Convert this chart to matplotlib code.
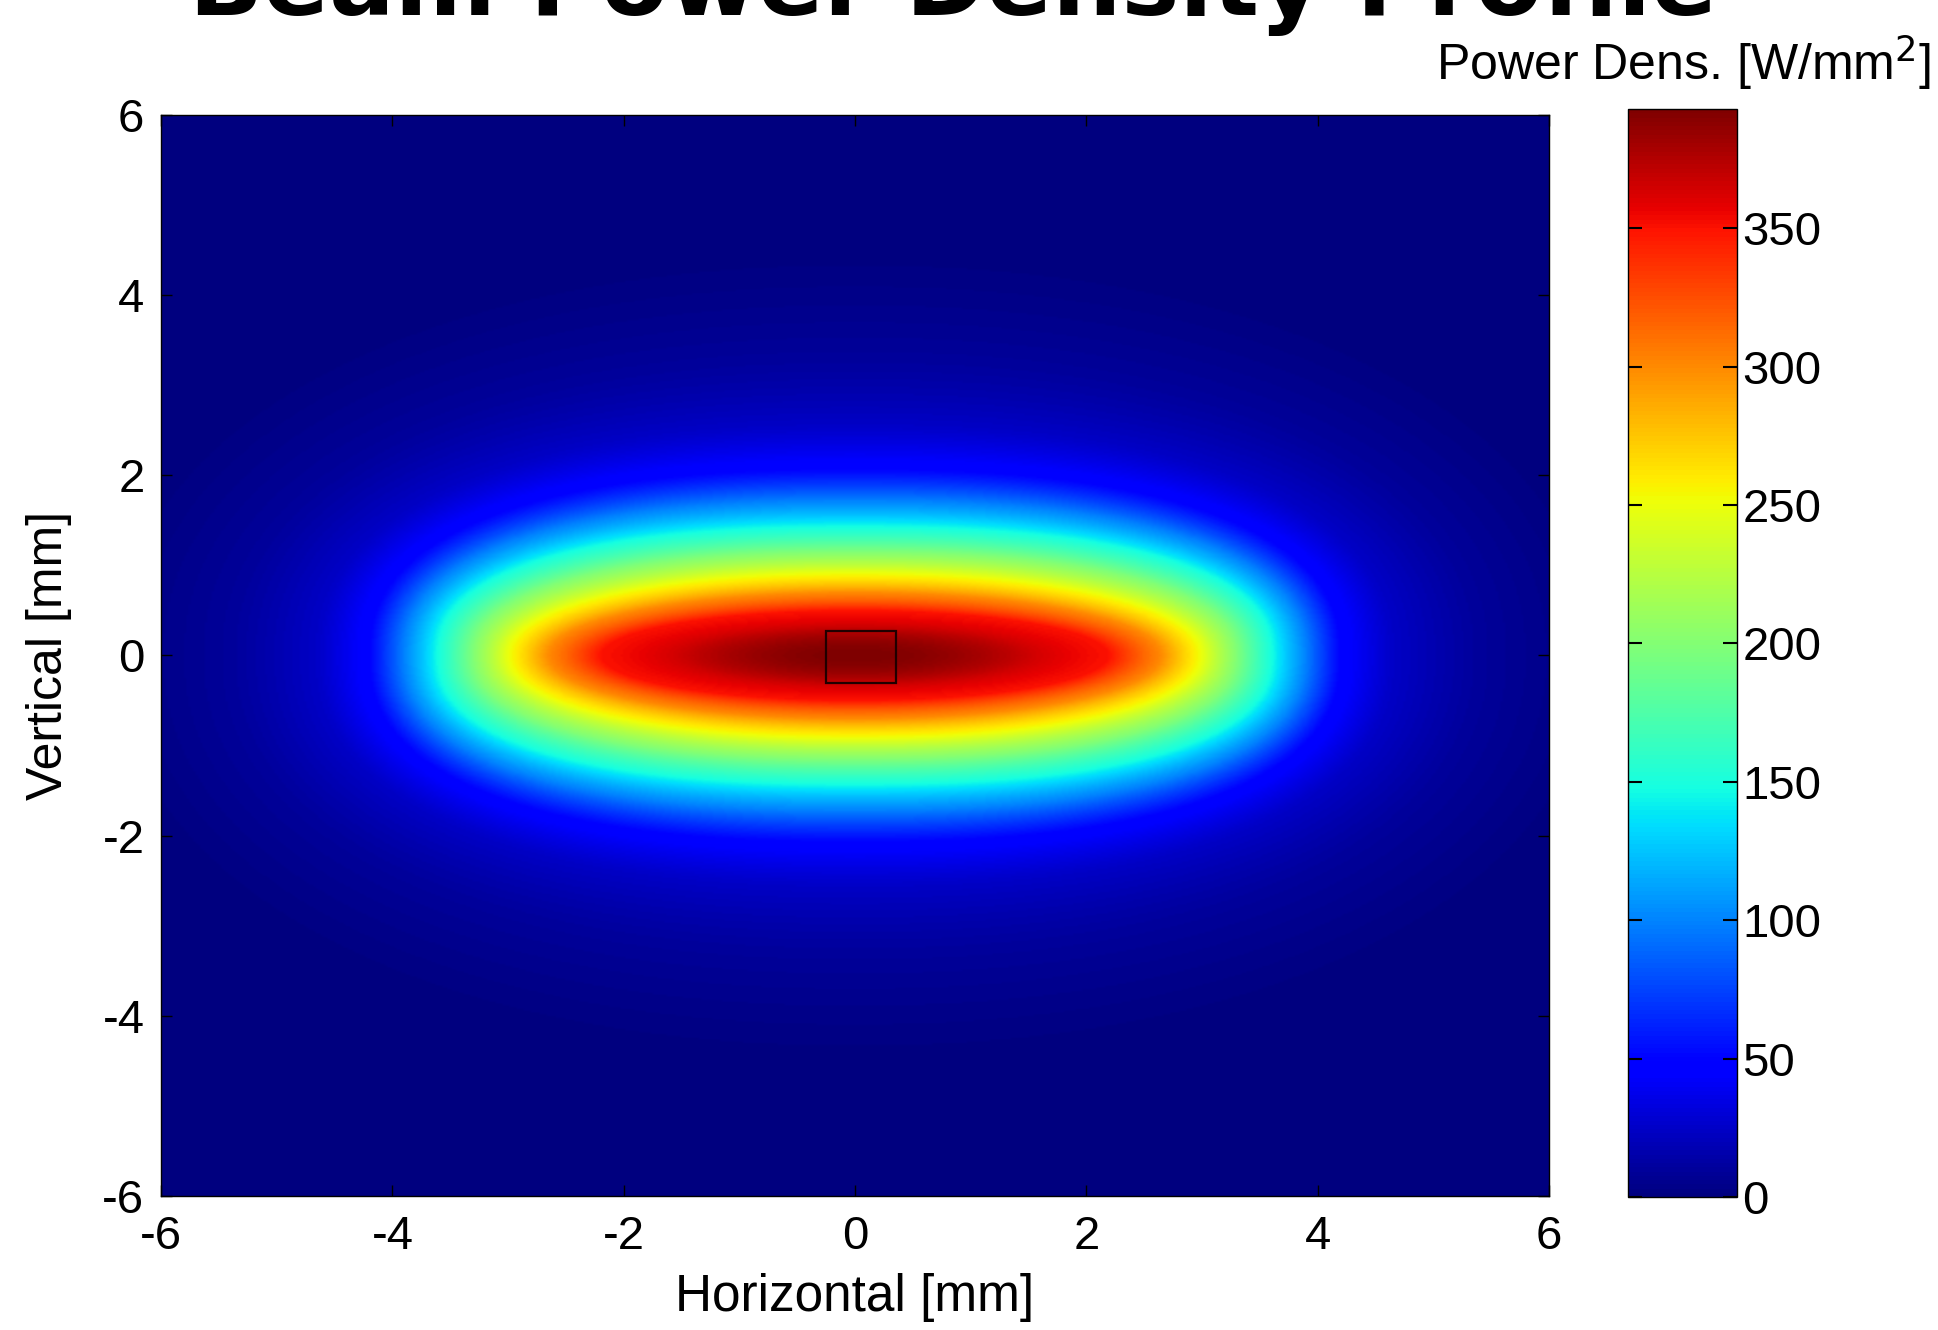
import numpy as np
import matplotlib
matplotlib.use("Agg")
import matplotlib.pyplot as plt
from matplotlib.patches import Rectangle

plt.rcParams["axes.unicode_minus"] = False
plt.rcParams["font.family"] = ["Liberation Sans", "DejaVu Sans"]

# contour levels of the power density, half-axes (mm) and squareness of each contour
levels = [393, 370, 350, 300, 250, 200, 150, 100, 50, 25, 10, 0]
half_x = [0.0, 1.4, 2.2, 2.65, 3.0, 3.3, 3.6, 3.9, 4.2, 4.65, 5.4, 6.6]
half_y = [0.0, 0.3, 0.5, 0.7, 0.92, 1.15, 1.42, 1.72, 2.07, 2.55, 3.3, 4.6]
shape_p = [2.0, 2.0, 2.0, 2.05, 2.15, 2.3, 2.4, 2.4, 2.4, 2.3, 2.2, 2.1]

# aperture box at the beam centre (mm)
box_x = [-0.25, 0.35]
box_y = [-0.31, 0.27]

x_ticks = [-6, -4, -2, 0, 2, 4, 6]
y_ticks = [-6, -4, -2, 0, 2, 4, 6]
cbar_ticks = [0, 50, 100, 150, 200, 250, 300, 350]

# build the density map from the read contours
xs = np.linspace(-6, 6, 601)
X, Y = np.meshgrid(xs, xs)
rho = np.stack([((np.abs(X) / a) ** p + (np.abs(Y) / b) ** p) ** (1 / p)
                for a, b, p in zip(half_x[1:], half_y[1:], shape_p[1:])])
inside = rho <= 1
k = np.argmax(inside, axis=0)
none_inside = ~inside.any(axis=0)
r_cur = np.take_along_axis(rho, k[None], axis=0)[0]
r_prev = np.take_along_axis(rho, np.maximum(k - 1, 0)[None], axis=0)[0]
gap = np.where(r_prev - r_cur <= 0, 1, r_prev - r_cur)
s = np.where(k == 0, r_cur ** 2, k + np.clip((r_prev - 1) / gap, 0, 1))
s = np.where(none_inside, len(levels) - 1, s)
Z = np.interp(s, np.arange(len(levels)), levels)

fig = plt.figure(figsize=(19.38, 13.30), dpi=100)
ax = fig.add_axes([0.0831, 0.1008, 0.7162, 0.8127])
im = ax.imshow(Z, extent=[-6, 6, -6, 6], origin="lower", cmap="jet",
               vmin=0, vmax=max(levels), aspect="auto", interpolation="bilinear")
ax.add_patch(Rectangle((box_x[0], box_y[0]), box_x[1] - box_x[0], box_y[1] - box_y[0],
                       fill=False, edgecolor="#200000", linewidth=1.6))
ax.set_xlim(-6, 6)
ax.set_ylim(-6, 6)
ax.set_xticks(x_ticks)
ax.set_yticks(y_ticks)
ax.tick_params(direction="in", length=8, width=1, labelsize=34, pad=14,
               top=True, right=True)
ax.tick_params(axis="y", pad=12)
ax.set_xlabel("Horizontal [mm]", fontsize=37, labelpad=10)
ax.set_ylabel("Vertical [mm]", fontsize=36, labelpad=22)
for sp in ax.spines.values():
    sp.set_linewidth(1)

cax = fig.add_axes([0.840, 0.100, 0.0562, 0.818])
cb = fig.colorbar(im, cax=cax, ticks=cbar_ticks)
cb.outline.set_linewidth(1)
cax.tick_params(direction="in", length=10, width=1.5, labelsize=34, pad=4,
                left=True, right=True)

fig.text(0.9965, 1 - 80 / 1330, "Power Dens. [W/mm$^2$]", ha="right", va="baseline",
         fontsize=36)
fig.text(0.492, 1 - 15 / 1330, "Beam Power Density Profile", ha="center", va="baseline",
         fontsize=70, fontweight="bold", family="DejaVu Sans")

fig.savefig("out.png", dpi=100)
